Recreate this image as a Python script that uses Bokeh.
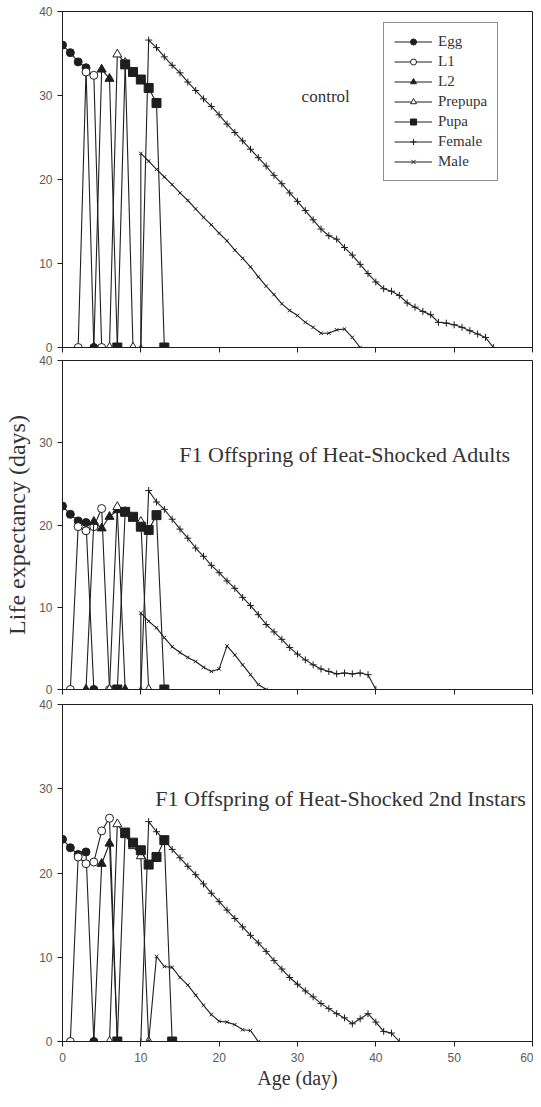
from bokeh.plotting import figure
from bokeh.layouts import column
from bokeh.models import Range1d, FixedTicker, Legend, LegendItem, Label
from bokeh.embed import file_html
from bokeh.resources import INLINE

# ---------------- data ----------------
stages = ["Egg", "L1", "L2", "Prepupa", "Pupa", "Female", "Male"]
x_ticks = [0, 10, 20, 30, 40, 50, 60]
y_ticks = [0, 10, 20, 30, 40]
panel_titles = ["control", "F1 Offspring of Heat-Shocked Adults",
                "F1 Offspring of Heat-Shocked 2nd Instars"]

# control
c_egg_x = [0, 1, 2, 3, 4]
c_egg_y = [36.0, 35.1, 34.0, 33.3, 0]
c_l1_x = [2, 3, 4, 5]
c_l1_y = [0, 32.8, 32.4, 0]
c_l2_x = [4, 5, 6, 7]
c_l2_y = [0, 33.1, 32.0, 0]
c_pre_x = [6, 7, 8, 9]
c_pre_y = [0, 34.9, 33.9, 0]
c_pupa_x = [7, 8, 9, 10, 11, 12, 13]
c_pupa_y = [0, 33.7, 32.8, 31.9, 30.9, 29.1, 0]
c_fem_x = [10, 11, 12, 13, 14, 15, 16, 17, 18, 19, 20, 21, 22, 23, 24, 25, 26, 27,
           28, 29, 30, 31, 32, 33, 34, 35, 36, 37, 38, 39, 40, 41, 42, 43, 44, 45,
           46, 47, 48, 49, 50, 51, 52, 53, 54, 55]
c_fem_y = [0, 36.6, 35.7, 34.6, 33.6, 32.7, 31.6, 30.6, 29.6, 28.7, 27.7, 26.6,
           25.6, 24.6, 23.6, 22.6, 21.6, 20.5, 19.5, 18.4, 17.4, 16.3, 15.2, 14.1,
           13.3, 12.9, 11.9, 11.0, 9.9, 8.8, 7.8, 7.0, 6.7, 6.2, 5.3, 4.8, 4.3, 3.9,
           3.0, 2.9, 2.7, 2.4, 2.0, 1.6, 1.2, 0]
c_male_x = [10, 10, 11, 12, 13, 14, 15, 16, 17, 18, 19, 20, 21, 22, 23, 24, 25, 26,
            27, 28, 29, 30, 31, 32, 33, 34, 35, 36, 37, 38]
c_male_y = [0, 23.1, 22.2, 21.2, 20.3, 19.4, 18.4, 17.5, 16.5, 15.5, 14.6, 13.6,
            12.7, 11.6, 10.6, 9.6, 8.4, 7.3, 6.3, 5.2, 4.4, 3.8, 3.0, 2.4, 1.7, 1.7,
            2.1, 2.2, 1.2, 0]

# F1 offspring of heat-shocked adults
a_egg_x = [0, 1, 2, 3, 4]
a_egg_y = [22.3, 21.3, 20.5, 20.3, 0]
a_l1_x = [1, 2, 3, 4, 5, 6]
a_l1_y = [0, 19.8, 19.3, 19.8, 22.0, 0]
a_l2_x = [3, 4, 5, 6, 7, 8]
a_l2_y = [0, 20.4, 19.6, 21.0, 21.8, 0]
a_pre_x = [6, 7, 8, 9, 10, 11]
a_pre_y = [0, 22.2, 21.6, 20.8, 20.4, 0]
a_pupa_x = [7, 8, 9, 10, 11, 12, 13]
a_pupa_y = [0, 21.6, 21.0, 19.8, 19.4, 21.2, 0]
a_fem_x = [10, 11, 12, 13, 14, 15, 16, 17, 18, 19, 20, 21, 22, 23, 24, 25, 26, 27,
           28, 29, 30, 31, 32, 33, 34, 35, 36, 37, 38, 39, 40]
a_fem_y = [0, 24.2, 22.8, 21.9, 20.7, 19.5, 18.4, 17.2, 16.2, 15.1, 14.2, 13.2,
           12.3, 11.2, 10.2, 9.1, 7.9, 7.0, 6.1, 5.1, 4.3, 3.6, 3.0, 2.5, 2.2, 1.9,
           2.0, 1.9, 2.0, 1.8, 0]
a_male_x = [10, 10, 11, 12, 13, 14, 15, 16, 17, 18, 19, 20, 21, 22, 23, 24, 25, 26]
a_male_y = [0, 9.3, 8.3, 7.5, 6.3, 5.2, 4.5, 3.9, 3.4, 2.7, 2.2, 2.5, 5.3, 4.2,
            3.0, 1.8, 0.6, 0]

# F1 offspring of heat-shocked 2nd instars
i_egg_x = [0, 1, 2, 3, 4]
i_egg_y = [24.0, 23.0, 22.2, 22.5, 0]
i_l1_x = [1, 2, 3, 4, 5, 6, 7]
i_l1_y = [0, 21.9, 21.1, 21.3, 25.0, 26.5, 0]
i_l2_x = [4, 5, 6, 7]
i_l2_y = [0, 21.1, 23.5, 0]
i_pre_x = [6, 7, 8, 9, 10, 11]
i_pre_y = [0, 25.8, 24.5, 23.2, 22.0, 0]
i_pupa_x = [7, 8, 9, 10, 11, 12, 13, 14]
i_pupa_y = [0, 24.8, 23.6, 22.7, 21.0, 21.9, 23.9, 0]
i_fem_x = [10, 11, 12, 13, 14, 15, 16, 17, 18, 19, 20, 21, 22, 23, 24, 25, 26, 27,
           28, 29, 30, 31, 32, 33, 34, 35, 36, 37, 38, 39, 40, 41, 42, 43]
i_fem_y = [0, 26.1, 24.9, 23.9, 22.8, 21.8, 20.8, 19.8, 18.7, 17.6, 16.6, 15.6,
           14.6, 13.6, 12.6, 11.7, 10.7, 9.6, 8.6, 7.6, 6.8, 6.0, 5.3, 4.5, 3.9,
           3.3, 2.8, 2.1, 2.7, 3.3, 2.3, 1.2, 1.0, 0]
i_male_x = [11, 12, 13, 14, 15, 16, 17, 18, 19, 20, 21, 22, 23, 24, 25]
i_male_y = [0, 10.1, 8.9, 8.8, 7.6, 6.7, 5.5, 4.3, 3.2, 2.4, 2.3, 2.0, 1.4, 1.3, 0]

panels = [
    [(c_egg_x, c_egg_y), (c_l1_x, c_l1_y), (c_l2_x, c_l2_y), (c_pre_x, c_pre_y),
     (c_pupa_x, c_pupa_y), (c_fem_x, c_fem_y), (c_male_x, c_male_y)],
    [(a_egg_x, a_egg_y), (a_l1_x, a_l1_y), (a_l2_x, a_l2_y), (a_pre_x, a_pre_y),
     (a_pupa_x, a_pupa_y), (a_fem_x, a_fem_y), (a_male_x, a_male_y)],
    [(i_egg_x, i_egg_y), (i_l1_x, i_l1_y), (i_l2_x, i_l2_y), (i_pre_x, i_pre_y),
     (i_pupa_x, i_pupa_y), (i_fem_x, i_fem_y), (i_male_x, i_male_y)],
]

# ---------------- styling ----------------
INK = "#1e1e1e"
marker_style = {
    "Egg": dict(marker="circle", size=8, fill_color=INK),
    "L1": dict(marker="circle", size=8, fill_color="white"),
    "L2": dict(marker="triangle", size=9, fill_color=INK),
    "Prepupa": dict(marker="triangle", size=9, fill_color="white"),
    "Pupa": dict(marker="square", size=9, fill_color=INK),
    "Female": dict(marker="cross", size=7, fill_color=INK),
    "Male": dict(marker="x", size=5, fill_color=INK),
}
title_pos = [(33.6, 29.9), (36.1, 28.6), (35.5, 28.8)]
title_size = ["17px", "22px", "22px"]

W = 533
heights = [354, 342, 395]
borders_top = [11, 6, 8]
borders_bottom = [7, 7, 50]

figs = []
for k in range(3):
    p = figure(width=W, height=heights[k], output_backend="svg", toolbar_location=None,
               x_range=Range1d(0, 60), y_range=Range1d(0, 40),
               min_border_left=62, min_border_right=1,
               min_border_top=borders_top[k], min_border_bottom=borders_bottom[k])
    p.grid.visible = False
    p.outline_line_color = INK
    p.outline_line_width = 1
    p.background_fill_color = "white"
    p.border_fill_color = "white"
    for ax in (p.xaxis[0], p.yaxis[0]):
        ax.axis_line_color = INK
        ax.major_tick_line_color = INK
        ax.major_tick_out = 5
        ax.major_tick_in = 0
        ax.minor_tick_line_color = None
        ax.major_label_text_font = "Liberation Sans"
        ax.major_label_text_font_size = "12px"
        ax.major_label_text_color = "#5a5a5a"
    p.xaxis.ticker = FixedTicker(ticks=x_ticks)
    p.yaxis.ticker = FixedTicker(ticks=y_ticks)
    p.yaxis.major_label_standoff = 5
    if k < 2:
        p.xaxis.major_label_overrides = {t: "" for t in x_ticks}
        p.xaxis.major_label_standoff = 0
    else:
        p.xaxis.major_label_standoff = 6
        p.xaxis.axis_label = "Age (day)"
        p.xaxis.axis_label_text_font = "Liberation Serif"
        p.xaxis.axis_label_text_font_size = "20px"
        p.xaxis.axis_label_text_font_style = "normal"
        p.xaxis.axis_label_text_color = "#333333"
        p.xaxis.axis_label_standoff = 2
    if k == 1:
        p.yaxis.axis_label = "Life expectancy (days)"
        p.yaxis.axis_label_text_font = "Liberation Serif"
        p.yaxis.axis_label_text_font_size = "24px"
        p.yaxis.axis_label_text_font_style = "normal"
        p.yaxis.axis_label_text_color = "#333333"
        p.yaxis.axis_label_standoff = 6

    items = []
    for name, (xs, ys) in zip(stages, panels[k]):
        st = marker_style[name]
        ln = p.line(xs, ys, line_color=INK, line_width=1.1)
        sc = p.scatter(xs, ys, marker=st["marker"], size=st["size"],
                       fill_color=st["fill_color"], line_color=INK, line_width=1)
        items.append(LegendItem(label=name, renderers=[ln, sc]))

    tx, ty = title_pos[k]
    p.add_layout(Label(x=tx, y=ty, text=panel_titles[k], text_font="Liberation Serif",
                       text_font_size=title_size[k], text_color="#333333",
                       text_align="center", text_baseline="middle"))

    if k == 0:
        leg = Legend(items=items, location=(321, 166), orientation="vertical",
                     label_text_font="Liberation Serif", label_text_font_size="15px",
                     label_text_color="#333333", glyph_width=38, glyph_height=15,
                     label_height=15, label_standoff=6, spacing=3, padding=10, margin=0,
                     border_line_color=INK, border_line_width=1,
                     background_fill_alpha=1.0)
        p.add_layout(leg)
    figs.append(p)

layout = column(*figs, spacing=0)
open("out.html", "w").write(file_html(layout, INLINE))
